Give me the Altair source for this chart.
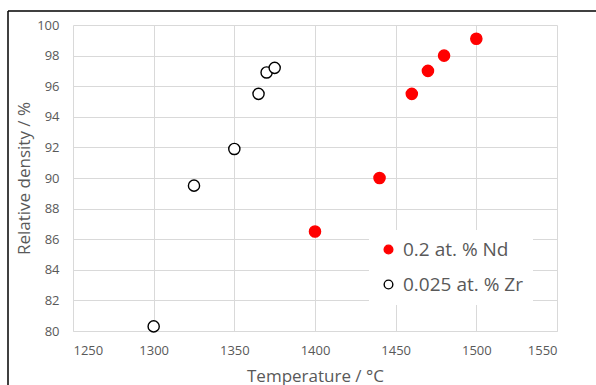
import altair as alt
import pandas as pd

# Sintering series: temperature (°C) vs relative density (%)
nd_label = "0.2 at. % Nd"
nd_temp = [1400, 1440, 1460, 1470, 1480, 1500]
nd_density = [86.5, 90.0, 95.5, 97.0, 98.0, 99.1]

zr_label = "0.025 at. % Zr"
zr_temp = [1300, 1325, 1350, 1365, 1370, 1375]
zr_density = [80.3, 89.5, 91.9, 95.5, 96.9, 97.2]

x_ticks = [1250, 1300, 1350, 1400, 1450, 1500, 1550]
y_ticks = [80, 82, 84, 86, 88, 90, 92, 94, 96, 98, 100]

df = pd.concat([
    pd.DataFrame({"series": nd_label, "temp": nd_temp, "density": nd_density}),
    pd.DataFrame({"series": zr_label, "temp": zr_temp, "density": zr_density}),
])

TEXT = "#595959"
GRID = "#d9d9d9"
FONT = "Open Sans"

series_domain = [nd_label, zr_label]

points = alt.Chart(df).mark_point(shape="circle", filled=False, size=125, strokeWidth=1.4, opacity=1).encode(
    x=alt.X("temp:Q", title="Temperature / °C",
            scale=alt.Scale(domain=[1250, 1550], nice=False, zero=False),
            axis=alt.Axis(values=x_ticks, format="d")),
    y=alt.Y("density:Q", title="Relative density / %",
            scale=alt.Scale(domain=[80, 100], nice=False, zero=False),
            axis=alt.Axis(values=y_ticks, format="d")),
    fill=alt.Fill("series:N", scale=alt.Scale(domain=series_domain, range=["#ff0000", "#ffffff"]),
                  legend=alt.Legend(title=None, orient="none", legendX=296, legendY=205,
                                    fillColor="white", padding=10, rowPadding=15,
                                    symbolSize=75, symbolStrokeWidth=1.4, symbolOpacity=1,
                                    labelFontSize=19, labelColor=TEXT, labelFont=FONT,
                                    labelOffset=5, symbolType="circle")),
    stroke=alt.Stroke("series:N", scale=alt.Scale(domain=series_domain, range=["#ff0000", "#000000"])),
)

# Outer frame lines along the top and left edges
frame_top = alt.Chart(pd.DataFrame({"k": [0]})).mark_rule(color="black", strokeWidth=1.5).encode(
    x=alt.value(-65), x2=alt.value(600), y=alt.value(-14))
frame_left = alt.Chart(pd.DataFrame({"k": [0]})).mark_rule(color="black", strokeWidth=1.5).encode(
    x=alt.value(-65), y=alt.value(-14), y2=alt.value(400))

chart = alt.layer(frame_top, frame_left, points).properties(
    width=484, height=306,
    autosize=alt.AutoSizeParams(type="none"),
    padding={"left": 73, "top": 25, "right": 39, "bottom": 54},
    background="white",
).configure_view(stroke=None).configure_axis(
    grid=True, gridColor=GRID, gridWidth=1, domainColor=GRID, domainWidth=1,
    ticks=False, labelColor=TEXT, labelFont=FONT, labelFontSize=13,
    titleColor=TEXT, titleFont=FONT, titleFontSize=17, titleFontWeight="normal",
).configure_axisX(labelPadding=13, titlePadding=11).configure_axisY(
    labelPadding=14, titlePadding=3, domain=False)

chart.save("out.html", embed_options={"renderer": "svg", "actions": False})
